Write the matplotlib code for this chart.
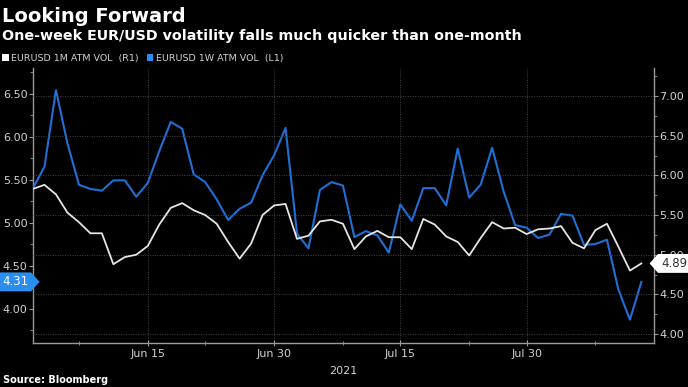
import matplotlib
matplotlib.use("Agg")
import matplotlib.pyplot as plt
import matplotlib.transforms as mtransforms
from matplotlib.path import Path
from matplotlib.patches import Patch
from matplotlib.ticker import FixedLocator, MultipleLocator, FuncFormatter
import pandas as pd

# ---------------- data ----------------
dates = pd.bdate_range("2021-06-01", "2021-08-13")
vol_1m = [5.83, 5.88, 5.76, 5.53, 5.41, 5.27, 5.27, 4.88, 4.97, 5.00,
          5.11, 5.38, 5.59, 5.65, 5.56, 5.50, 5.39, 5.16, 4.95, 5.14,
          5.50, 5.62, 5.64, 5.20, 5.24, 5.42, 5.44, 5.39, 5.07, 5.23,
          5.30, 5.22, 5.22, 5.07, 5.45, 5.38, 5.23, 5.16, 4.99, 5.21,
          5.41, 5.33, 5.34, 5.26, 5.32, 5.33, 5.36, 5.15, 5.08, 5.31,
          5.39, 5.10, 4.80, 4.89]
vol_1w = [5.40, 5.65, 6.54, 5.92, 5.44, 5.39, 5.37, 5.49, 5.49, 5.30,
          5.46, 5.83, 6.17, 6.09, 5.56, 5.47, 5.27, 5.03, 5.16, 5.23,
          5.55, 5.78, 6.10, 4.87, 4.70, 5.38, 5.47, 5.43, 4.83, 4.90,
          4.85, 4.65, 5.21, 5.02, 5.40, 5.40, 5.20, 5.86, 5.29, 5.44,
          5.87, 5.36, 4.97, 4.94, 4.82, 4.86, 5.10, 5.08, 4.74, 4.75,
          4.80, 4.22, 3.87, 4.31]
major_dates = ["2021-06-15", "2021-06-30", "2021-07-15", "2021-07-30"]
major_labels = ["Jun 15", "Jun 30", "Jul 15", "Jul 30"]
minor_dates = ["2021-06-07", "2021-06-22", "2021-07-08", "2021-07-23", "2021-08-09"]
label_1m = "EURUSD 1M ATM VOL  (R1)"
label_1w = "EURUSD 1W ATM VOL  (L1)"
title = "Looking Forward"
subtitle = "One-week EUR/USD volatility falls much quicker than one-month"
source = "Source: Bloomberg"
year_label = "2021"

# ---------------- style ----------------
BG = "#000000"
WHITE_LINE = "#e6e6e6"
BLUE_LINE = "#1f6fd4"
BLUE_BOX = "#2a8ef0"
TXT = "#d2d2d2"
GRID = "#454545"
SPINE = "#9a9a9a"

x = list(range(len(dates)))
pos = {d: i for i, d in enumerate(dates)}
major_pos = [pos[pd.Timestamp(d)] for d in major_dates]
minor_pos = [pos[pd.Timestamp(d)] for d in minor_dates]

fig = plt.figure(figsize=(6.88, 3.87), dpi=100, facecolor=BG)
ax1 = fig.add_axes([33 / 688, 1 - 343 / 387, (654 - 33) / 688, (343 - 68) / 387])
ax1.set_facecolor(BG)
ax2 = ax1.twinx()

ax1.plot(x, vol_1w, color=BLUE_LINE, lw=1.5, zorder=3)
ax2.plot(x, vol_1m, color=WHITE_LINE, lw=1.3, zorder=3)

ax1.set_xlim(0, 54.1)
ax1.set_ylim(3.599, 6.797)
ax2.set_ylim(3.887, 7.353)

fmt = FuncFormatter(lambda v, p: f"{v:.2f}")
for ax, lo, hi in ((ax1, 4.0, 6.5), (ax2, 4.0, 7.0)):
    ax.yaxis.set_major_locator(FixedLocator([lo + 0.5 * k for k in range(int((hi - lo) / 0.5) + 1)]))
    ax.yaxis.set_minor_locator(MultipleLocator(0.25))
    ax.yaxis.set_major_formatter(fmt)
    for s in ax.spines.values():
        s.set_visible(False)

ax1.spines["left"].set_visible(True)
ax1.spines["bottom"].set_visible(True)
ax2.spines["right"].set_visible(True)
for s in (ax1.spines["left"], ax1.spines["bottom"], ax2.spines["right"]):
    s.set_color(SPINE)
    s.set_linewidth(1.0)

ax1.tick_params(axis="y", which="major", direction="out", length=3, width=0.8,
                colors=SPINE, labelcolor=TXT, labelsize=8, pad=1)
ax1.tick_params(axis="y", which="minor", direction="out", length=2, width=0.6, colors=SPINE)
ax2.tick_params(axis="y", which="major", direction="out", length=3, width=0.8,
                colors=SPINE, labelcolor=TXT, labelsize=8, pad=1)
ax2.tick_params(axis="y", which="minor", direction="out", length=2, width=0.6, colors=SPINE)

ax1.xaxis.set_major_locator(FixedLocator(major_pos))
ax1.xaxis.set_minor_locator(FixedLocator(minor_pos))
ax1.set_xticklabels(major_labels)
ax1.tick_params(axis="x", which="major", direction="inout", length=4, width=0.8,
                colors=SPINE, labelcolor=TXT, labelsize=8, pad=2)
ax1.tick_params(axis="x", which="minor", direction="inout", length=3, width=0.6, colors=SPINE)

# gridlines: horizontal at right-axis majors, vertical at date majors
ax2.grid(axis="y", which="major", color=GRID, linestyle=(0, (1, 1.5)), linewidth=0.7)
ax1.grid(axis="x", which="major", color=GRID, linestyle=(0, (1, 1.5)), linewidth=0.7)
ax1.set_axisbelow(True)
ax2.set_axisbelow(True)

ax1.text(0.5, -0.085, year_label, transform=ax1.transAxes, ha="center", va="top",
         color=TXT, fontsize=8)


# ---------------- last-value tags ----------------
def tag_right(x0, y0, width, height, mutation_size):
    pad = mutation_size * 0.25
    x0, y0 = x0 - pad, y0 - pad
    w, h = width + 2 * pad, height + 2 * pad
    tip = h * 0.45
    return Path([(x0, y0), (x0 + w, y0), (x0 + w + tip, y0 + h / 2), (x0 + w, y0 + h),
                 (x0, y0 + h), (x0, y0)], closed=True)


def tag_left(x0, y0, width, height, mutation_size):
    pad = mutation_size * 0.25
    x0, y0 = x0 - pad, y0 - pad
    w, h = width + 2 * pad, height + 2 * pad
    tip = h * 0.45
    return Path([(x0, y0), (x0 + w, y0), (x0 + w, y0 + h), (x0, y0 + h),
                 (x0 - tip, y0 + h / 2), (x0, y0)], closed=True)


tr1 = mtransforms.blended_transform_factory(fig.transFigure, ax1.transData)
ax1.text(2 / 688, vol_1w[-1], f"{vol_1w[-1]:.2f}", transform=tr1, ha="left", va="center",
         color="white", fontsize=8.5, zorder=10, clip_on=False,
         bbox=dict(boxstyle=tag_right, fc=BLUE_BOX, ec="none"))
tr2 = mtransforms.blended_transform_factory(fig.transFigure, ax2.transData)
ax2.text(661 / 688, vol_1m[-1], f"{vol_1m[-1]:.2f}", transform=tr2, ha="left", va="center",
         color="#333333", fontsize=8.5, zorder=10, clip_on=False,
         bbox=dict(boxstyle=tag_left, fc="white", ec="none"))

# ---------------- titles / legend ----------------
fig.text(2 / 688, 1 - 16 / 387, title, color="white", fontsize=14, fontweight="bold",
         ha="left", va="center")
fig.text(2 / 688, 1 - 36 / 387, subtitle, color="white", fontsize=10.3, fontweight="bold",
         ha="left", va="center")
fig.text(3 / 688, 1 - 380 / 387, source, color="white", fontsize=7, fontweight="bold",
         ha="left", va="center")

handles = [Patch(facecolor="white", edgecolor="none", label=label_1m),
           Patch(facecolor=BLUE_BOX, edgecolor="none", label=label_1w)]
leg = fig.legend(handles=handles, loc="center left", bbox_to_anchor=(0.0, 1 - 58 / 387),
                 ncol=2, frameon=False, fontsize=6.8, handlelength=0.7, handleheight=0.7,
                 handletextpad=0.3, columnspacing=0.8, borderaxespad=0, borderpad=0.2)
for t in leg.get_texts():
    t.set_color(TXT)

fig.savefig("out.png", dpi=100, facecolor=BG)
